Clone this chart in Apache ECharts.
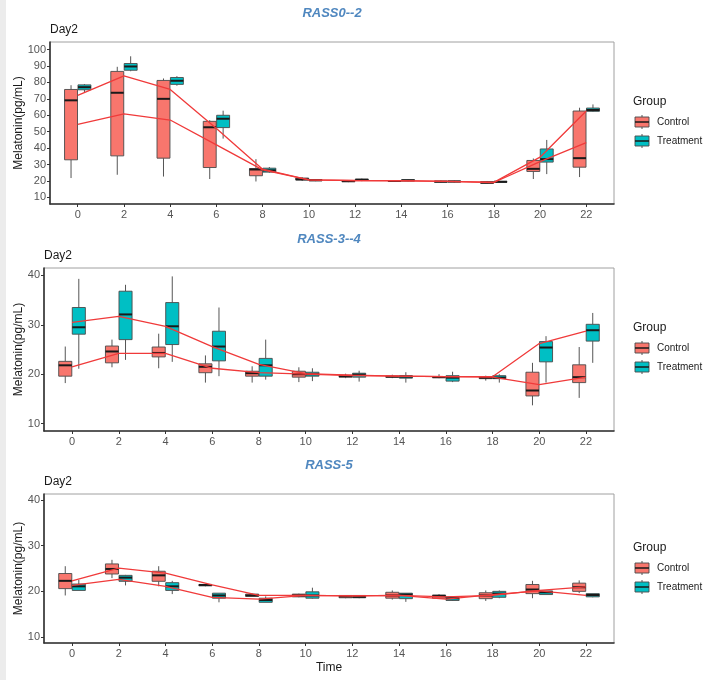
<!DOCTYPE html>
<html>
<head>
<meta charset="utf-8">
<script src="https://cdn.jsdelivr.net/npm/echarts@6/dist/echarts.min.js"></script>
<style>html,body{margin:0;padding:0;background:#fff}#c{width:708px;height:680px}</style>
</head>
<body>
<div id="c"></div>
<script>
// ---------- DATA ----------
const times = [0, 2, 4, 6, 8, 10, 12, 14, 16, 18, 20, 22];
const xTickLabels = ['0','2','4','6','8','10','12','14','16','18','20','22'];
const panelTitles = ['RASS0--2', 'RASS-3--4', 'RASS-5'];
const groups = ['Control', 'Treatment'];

// boxes: [min, Q1, median, Q3, max] per time
const p1Control = [
  [21.8, 32.9, 69.1, 75.7, 78.3], [23.8, 35.3, 73.7, 86.7, 89.5], [22.7, 33.9, 70.0, 81.2, 82.4],
  [21.2, 28.2, 52.7, 56.3, 57.0], [19.7, 23.2, 27.0, 27.6, 33.3], [20.0, 20.6, 21.0, 21.8, 22.3],
  [19.3, 19.6, 19.9, 20.2, 20.5], [19.4, 19.7, 20.0, 20.3, 20.6], [19.1, 19.3, 19.6, 19.9, 20.2],
  [18.3, 18.6, 19.0, 19.6, 20.0], [21.2, 25.8, 27.4, 32.5, 33.7], [22.4, 28.4, 33.9, 62.6, 64.6]
];
const p1Treatment = [
  [74.0, 75.5, 77.1, 78.5, 79.0], [86.8, 87.4, 89.7, 91.5, 95.9], [78.0, 78.8, 81.0, 83.0, 83.8],
  [45.8, 52.5, 57.9, 60.0, 62.8], [25.0, 25.4, 26.5, 27.8, 28.5], [19.9, 20.1, 20.5, 20.9, 21.2],
  [19.9, 20.3, 20.7, 21.2, 21.5], [19.8, 20.1, 20.4, 20.8, 21.0], [19.2, 19.4, 19.7, 20.0, 20.2],
  [19.0, 19.2, 19.5, 19.8, 20.0], [24.2, 31.5, 33.3, 39.5, 45.0], [62.0, 62.4, 63.2, 64.4, 66.6]
];
const p1ControlMean = [54.5, 60.8, 57.1, 42.0, 26.8, 20.7, 20.2, 20.1, 19.8, 19.1, 31.8, 43.4];
const p1TreatmentMean = [72.1, 84.0, 75.7, 52.0, 27.2, 20.7, 20.3, 20.2, 19.8, 19.2, 34.5, 62.6];

const p2Control = [
  [18.2, 19.6, 21.8, 22.6, 25.6], [21.4, 22.3, 24.6, 25.7, 27.0], [21.2, 23.5, 24.3, 25.5, 28.2],
  [18.3, 20.3, 21.5, 22.1, 23.8], [18.3, 19.6, 20.2, 20.6, 21.6], [18.4, 19.4, 20.0, 20.6, 21.4],
  [19.2, 19.4, 19.6, 19.8, 20.1], [19.2, 19.4, 19.5, 19.6, 19.9], [19.2, 19.3, 19.4, 19.5, 20.0],
  [18.7, 19.1, 19.3, 19.5, 19.7], [13.7, 15.6, 16.7, 20.4, 22.3], [15.2, 18.3, 19.4, 21.9, 25.5]
];
const p2Treatment = [
  [21.1, 28.1, 29.5, 33.5, 39.3], [22.9, 27.0, 32.1, 36.8, 38.1], [22.5, 26.0, 29.7, 34.5, 39.8],
  [19.6, 22.7, 25.6, 28.7, 33.5], [18.9, 19.6, 21.8, 23.2, 27.0], [18.6, 19.6, 20.0, 20.4, 21.2],
  [18.5, 19.4, 19.9, 20.2, 20.7], [18.3, 19.2, 19.5, 19.7, 20.4], [18.4, 18.6, 19.3, 19.7, 20.5],
  [18.3, 19.1, 19.3, 19.7, 20.0], [18.3, 22.5, 25.4, 26.6, 27.7], [22.3, 26.7, 28.9, 30.1, 32.4]
];
const p2ControlMean = [21.5, 24.2, 24.2, 21.2, 20.3, 20.0, 19.7, 19.6, 19.5, 19.4, 17.9, 19.4];
const p2TreatmentMean = [30.5, 31.7, 29.7, 25.6, 22.0, 20.1, 19.8, 19.6, 19.5, 19.5, 26.2, 28.7];

const p3Control = [
  [19.1, 20.6, 22.3, 23.9, 25.5], [22.9, 23.8, 24.9, 26.0, 26.9], [21.1, 22.2, 23.5, 24.4, 25.5],
  [21.1, 21.2, 21.4, 21.5, 21.6], [18.9, 18.9, 19.1, 19.4, 19.5], [18.7, 18.8, 19.1, 19.4, 19.5],
  [18.5, 18.6, 18.9, 19.1, 19.2], [18.2, 18.5, 19.1, 19.8, 20.2], [18.4, 18.5, 19.0, 19.2, 19.4],
  [17.9, 18.4, 19.1, 19.7, 20.2], [18.5, 19.5, 20.4, 21.5, 22.3], [19.6, 20.0, 20.9, 21.8, 22.4]
];
const p3Treatment = [
  [20.2, 20.2, 21.1, 21.6, 22.5], [21.3, 22.2, 23.0, 23.5, 23.6], [19.4, 20.2, 21.1, 21.9, 22.3],
  [17.6, 18.5, 19.1, 19.6, 19.6], [17.6, 17.6, 18.1, 18.5, 18.9], [18.4, 18.5, 19.1, 19.9, 20.8],
  [18.5, 18.6, 18.8, 19.1, 19.2], [17.7, 18.4, 19.3, 19.6, 19.6], [17.9, 18.0, 18.5, 18.8, 18.8],
  [18.5, 18.7, 19.5, 20.0, 20.2], [19.3, 19.3, 19.8, 20.1, 20.1], [18.7, 18.8, 19.2, 19.5, 19.5]
];
const p3ControlMean = [22.3, 25.1, 24.0, 21.4, 19.1, 19.1, 19.0, 19.1, 18.8, 19.1, 20.2, 21.0];
const p3TreatmentMean = [21.3, 22.6, 21.1, 18.7, 18.3, 19.1, 19.0, 19.1, 18.3, 19.3, 20.1, 19.1];

const p1YTicks = [10, 20, 30, 40, 50, 60, 70, 80, 90, 100];
const p23YTicks = [10, 20, 30, 40];

// ---------- CHART ----------
const FONT = 'Liberation Sans, Arial, sans-serif';
const colors = ['#F8766D', '#00BFC4'];

const panels = [
  { ctrl: p1Control, trt: p1Treatment, cm: p1ControlMean, tm: p1TreatmentMean, ymin: 6, ymax: 104.6, yticks: p1YTicks,
    grid: { left: 50, top: 42, width: 564, height: 162 }, legendY: 102 },
  { ctrl: p2Control, trt: p2Treatment, cm: p2ControlMean, tm: p2TreatmentMean, ymin: 8.5, ymax: 41.5, yticks: p23YTicks,
    grid: { left: 44, top: 268, width: 570, height: 163 }, legendY: 328 },
  { ctrl: p3Control, trt: p3Treatment, cm: p3ControlMean, tm: p3TreatmentMean, ymin: 8.7, ymax: 41.3, yticks: p23YTicks,
    grid: { left: 44, top: 494, width: 570, height: 149 }, legendY: 548 }
];

function boxRender(offset, fill) {
  return function (params, api) {
    const t = api.value(0);
    const vals = [api.value(1), api.value(2), api.value(3), api.value(4), api.value(5)];
    const x = api.coord([t + offset, vals[2]])[0];
    const w = api.size([0.56, 0])[0];
    const y = vals.map(v => api.coord([t + offset, v])[1]);
    return {
      type: 'group',
      children: [
        { type: 'line', shape: { x1: x, y1: y[0], x2: x, y2: y[1] }, style: { stroke: '#555', lineWidth: 1 } },
        { type: 'line', shape: { x1: x, y1: y[3], x2: x, y2: y[4] }, style: { stroke: '#555', lineWidth: 1 } },
        { type: 'rect', shape: { x: x - w / 2, y: y[3], width: w, height: Math.max(y[1] - y[3], 1) },
          style: { fill: fill, stroke: '#4a4a4a', lineWidth: 0.9 } },
        { type: 'line', shape: { x1: x - w / 2, y1: y[2], x2: x + w / 2, y2: y[2] }, style: { stroke: '#1a1a1a', lineWidth: 2 } }
      ]
    };
  };
}

const grids = [], xAxes = [], yAxes = [], series = [], graphics = [];
panels.forEach((p, i) => {
  grids.push(Object.assign({ show: true, borderColor: '#a0a0a0', borderWidth: 1, backgroundColor: '#fff',
    outerBoundsMode: 'none', containLabel: false }, p.grid));
  xAxes.push({
    type: 'value', gridIndex: i, min: -1.2, max: 23.2,
    splitLine: { show: false },
    axisLine: { show: true, onZero: false, lineStyle: { color: '#333', width: 1.6 } },
    axisTick: { show: true, length: 3, lineStyle: { color: '#333' }, customValues: times },
    axisLabel: { color: '#555', fontSize: 11, fontFamily: FONT, margin: 5, customValues: times,
      formatter: v => xTickLabels[times.indexOf(v)] },
    name: i === 2 ? 'Time' : '', nameLocation: 'middle', nameGap: 19, nameMoveOverlap: false,
    nameTextStyle: { color: '#1a1a1a', fontSize: 12, fontFamily: FONT }
  });
  yAxes.push({
    type: 'value', gridIndex: i, min: p.ymin, max: p.ymax,
    splitLine: { show: false },
    axisLine: { show: true, onZero: false, lineStyle: { color: '#333', width: 1.6 } },
    axisTick: { show: true, length: 3, lineStyle: { color: '#333' }, customValues: p.yticks },
    axisLabel: { color: '#555', fontSize: 11, fontFamily: FONT, margin: 4, customValues: p.yticks },
    name: 'Melatonin(pg/mL)', nameLocation: 'middle', nameGap: p.grid.left - 25, nameRotate: 90,
    nameMoveOverlap: false,
    nameTextStyle: { color: '#1a1a1a', fontSize: 12, fontFamily: FONT }
  });
  [[p.ctrl, -0.29, colors[0], groups[0]], [p.trt, 0.29, colors[1], groups[1]]].forEach(([arr, off, col, name]) => {
    series.push({
      type: 'custom', name: name, xAxisIndex: i, yAxisIndex: i, z: 2,
      renderItem: boxRender(off, col),
      encode: { x: 0, y: [1, 2, 3, 4, 5] },
      data: times.map((t, k) => [t].concat(arr[k]))
    });
  });
  [p.cm, p.tm].forEach((m, gi) => {
    series.push({
      type: 'line', name: groups[gi] + ' mean', xAxisIndex: i, yAxisIndex: i, z: 5,
      showSymbol: false, silent: true,
      lineStyle: { color: '#f03a3a', width: 1.3 },
      data: times.map((t, k) => [t, m[k]])
    });
  });
  // titles
  const cx = p.grid.left + p.grid.width / 2;
  graphics.push({ type: 'text', x: cx, y: p.grid.top - 29, style: { text: panelTitles[i], fill: '#4f87bf',
    font: 'italic bold 13px ' + FONT, textAlign: 'center', textVerticalAlign: 'middle' } });
  graphics.push({ type: 'text', x: p.grid.left, y: p.grid.top - 12, style: { text: 'Day2', fill: '#1a1a1a',
    font: '12px ' + FONT, textAlign: 'left', textVerticalAlign: 'middle' } });
  // legend
  const ly = p.legendY;
  graphics.push({ type: 'text', x: 633, y: ly, style: { text: 'Group', fill: '#1a1a1a', font: '12px ' + FONT,
    textAlign: 'left', textVerticalAlign: 'middle' } });
  groups.forEach((g, gi) => {
    const yc = ly + 20 + gi * 19;
    graphics.push({ type: 'line', shape: { x1: 642, y1: yc - 7, x2: 642, y2: yc + 7 }, style: { stroke: '#555', lineWidth: 1 } });
    graphics.push({ type: 'rect', shape: { x: 635, y: yc - 5, width: 14, height: 10 }, style: { fill: colors[gi], stroke: '#4a4a4a', lineWidth: 0.9 } });
    graphics.push({ type: 'line', shape: { x1: 635, y1: yc, x2: 649, y2: yc }, style: { stroke: '#1a1a1a', lineWidth: 1.5 } });
    graphics.push({ type: 'text', x: 657, y: yc, style: { text: g, fill: '#1a1a1a', font: '10px ' + FONT,
      textAlign: 'left', textVerticalAlign: 'middle' } });
  });
});
graphics.push({ type: 'rect', shape: { x: 0, y: 0, width: 6, height: 680 }, style: { fill: '#ececec' }, z: -1 });

const chart = echarts.init(document.getElementById('c'), null, { renderer: 'canvas' });
chart.setOption({
  backgroundColor: '#ffffff',
  animation: false,
  grid: grids, xAxis: xAxes, yAxis: yAxes, series: series,
  graphic: graphics
});
</script>
</body>
</html>
